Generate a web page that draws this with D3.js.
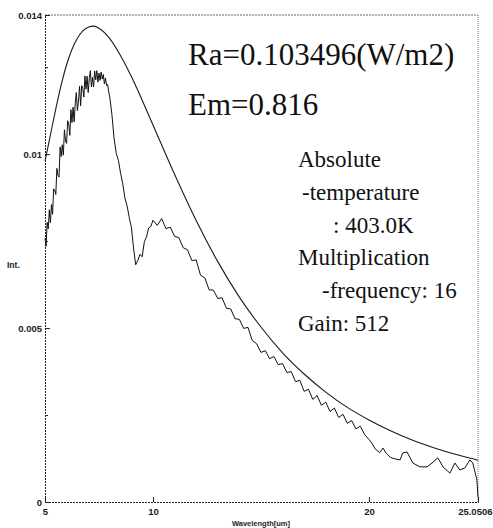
<!DOCTYPE html>
<html>
<head>
<meta charset="utf-8">
<script src="https://cdn.jsdelivr.net/npm/d3@7"></script>
<style>
  body { margin: 0; background: #fff; }
  svg { display: block; }
</style>
</head>
<body>
<svg id="chart"></svg>
<script>
// axis ticks
var xTicks = [5, 10, 20, 25.0506],
    xTickLabels = ["5", "10", "20", "25.0506"],
    yTicks = [0, 0.005, 0.01, 0.014],
    yTickLabels = ["0", "0.005", "0.01", "0.014"],
    yMinor = [0.0025, 0.0075, 0.0125];

// blackbody curve (Int. in units of 1e-3)
var planckWl = [5, 5.25, 5.5, 5.75, 6, 6.5, 7, 7.25, 7.5, 8, 8.5, 9, 9.5, 10, 11, 12, 13, 14, 15,
                16, 17, 18, 19, 20, 21, 22, 23, 24, 25, 25.0506];
var planckInt = [9.8, 10.55, 11.30, 11.99, 12.57, 13.33, 13.65, 13.68, 13.62, 13.32, 12.83, 12.23, 11.55, 10.84, 9.42, 8.09, 6.91, 5.89, 5.03,
                 4.29, 3.68, 3.16, 2.72, 2.36, 2.05, 1.78, 1.56, 1.37, 1.21, 1.20];

// measured spectrum, 5.00 - 7.95 um every 0.05 um (noisy part)
var measNoisy = [7.58, 7.35, 8.04, 7.85, 8.40, 8.03, 8.55, 8.27, 9.00, 8.97,
                 8.84, 9.59, 9.39, 9.34, 10.21, 9.93, 10.27, 9.97, 10.70, 10.38,
                 10.31, 10.96, 10.86, 10.54, 11.28, 10.91, 11.35, 10.93, 11.45, 11.77,
                 11.25, 11.53, 11.95, 11.39, 11.97, 11.89, 11.64, 12.25, 11.87, 12.24,
                 11.77, 12.18, 12.40, 11.93, 12.21, 11.93, 12.39, 12.14, 12.40, 12.07,
                 12.33, 12.12, 12.36, 12.16, 12.29, 12.02, 12.19, 11.97, 12.00, 11.79];
// 8.0 - 9.9 um every 0.1 um
var measDip = [11.64, 11.13, 10.45, 10.02, 9.82, 9.45, 9.15, 8.74, 8.52, 8.18,
               7.90, 7.30, 6.82, 6.95, 7.12, 7.05, 7.48, 7.62, 7.88, 7.92];
// 10.0 - 19.8 um every 0.2 um
var measTail = [8.10, 7.95, 8.15, 7.86, 7.90, 7.64, 7.60, 7.31, 7.25, 6.94,
                6.96, 6.52, 6.44, 6.10, 6.09, 5.85, 5.87, 5.57, 5.55, 5.27,
                5.25, 4.99, 5.02, 4.64, 4.55, 4.30, 4.35, 4.12, 4.18, 3.95,
                3.98, 3.72, 3.75, 3.46, 3.50, 3.18, 3.24, 2.95, 3.06, 2.78,
                2.87, 2.60, 2.70, 2.43, 2.52, 2.26, 2.34, 2.10, 2.18, 1.94];
// 20 um to the end
var measEnd = [[20.0, 1.80], [20.1, 1.72], [20.3, 1.52], [20.5, 1.42], [20.65, 1.55], [20.8, 1.40],
               [21.0, 1.28], [21.2, 1.24], [21.44, 1.21], [21.57, 1.41], [21.76, 1.44], [22.04, 1.12],
               [22.36, 1.01], [22.69, 1.01], [22.92, 1.12], [23.19, 1.27], [23.43, 1.01], [23.75, 0.83],
               [23.98, 1.12], [24.21, 0.92], [24.44, 0.98], [24.68, 1.21], [24.81, 1.12], [25.0, 0.63],
               [25.0506, 0.14]];

var notes = ["Absolute", "-temperature", ": 403.0K", "Multiplication", "-frequency: 16", "Gain: 512"];

var W = 493, H = 528;
var svg = d3.select("#chart").attr("width", W).attr("height", H);

var x = d3.scaleLinear().domain([5, 25.0506]).range([45, 478]);
var y = d3.scaleLinear().domain([0, 0.014]).range([502, 15]);

// build measured series
var meas = [];
measNoisy.forEach(function(v, i) { meas.push([5 + i * 0.05, v]); });
measDip.forEach(function(v, i) { meas.push([8 + i * 0.1, v]); });
measTail.forEach(function(v, i) { meas.push([10 + i * 0.2, v]); });
measEnd.forEach(function(p) { meas.push(p); });

var planck = planckWl.map(function(w, i) { return [w, planckInt[i]]; });

// frame: top and right
svg.append("line")
    .attr("x1", x(5)).attr("x2", x(25.0506)).attr("y1", y(0.014)).attr("y2", y(0.014))
    .attr("stroke", "#666").attr("stroke-dasharray", "2,1");
svg.append("line")
    .attr("x1", x(25.0506)).attr("x2", x(25.0506)).attr("y1", y(0.014)).attr("y2", y(0))
    .attr("stroke", "#777").attr("stroke-dasharray", "1,1");

// y axis
svg.append("g")
    .attr("transform", "translate(" + x(5) + ",0)")
    .call(d3.axisLeft(y).tickValues(yTicks).tickSize(-5).tickPadding(3)
      .tickFormat(function(d, i) { return yTickLabels[i]; }));
svg.append("g")
    .attr("transform", "translate(" + x(5) + ",0)")
    .call(d3.axisLeft(y).tickValues(yMinor).tickSize(-3).tickFormat(""))
    .select(".domain").remove();

// x axis
var xAxis = svg.append("g")
    .attr("transform", "translate(0," + y(0) + ")")
    .call(d3.axisBottom(x).tickValues(xTicks).tickSize(-5).tickPadding(6)
      .tickFormat(function(d, i) { return xTickLabels[i]; }));
// last label sits against the right edge
xAxis.selectAll(".tick text")
    .filter(function(d) { return d === 25.0506; })
    .attr("text-anchor", "end").attr("x", 492 - x(25.0506));

svg.selectAll(".domain").attr("stroke", "#222").attr("stroke-dasharray", "2,1");
svg.selectAll(".tick line").attr("stroke", "#222");
svg.selectAll(".tick text")
    .attr("font-family", "Liberation Sans").attr("font-weight", "bold")
    .attr("font-size", 9.5).attr("fill", "#222");

// axis titles
svg.append("text")
    .attr("x", 7).attr("y", 268)
    .attr("font-family", "Liberation Sans")
    .attr("font-weight", "bold").attr("font-size", 8.5).attr("fill", "#222")
    .text("Int.");
svg.append("text")
    .attr("x", 261).attr("y", 526)
    .attr("text-anchor", "middle")
    .attr("font-family", "Liberation Sans")
    .attr("font-weight", "bold").attr("font-size", 7.5).attr("fill", "#222")
    .text("Wavelength[um]");

var line = d3.line()
    .x(function(d) { return x(d[0]); })
    .y(function(d) { return y(d[1] / 1000); });

svg.append("path")
    .datum(planck)
    .attr("fill", "none")
    .attr("stroke", "#1a1a1a")
    .attr("stroke-width", 1.1)
    .attr("d", line.curve(d3.curveMonotoneX));

svg.append("path")
    .datum(meas)
    .attr("fill", "none")
    .attr("stroke", "#111")
    .attr("stroke-width", 1)
    .attr("d", line.curve(d3.curveLinear));

// annotations
svg.append("text")
    .attr("x", 188).attr("y", 65)
    .attr("font-family", "Liberation Serif").attr("font-size", 31).attr("fill", "#111")
    .text("Ra=0.103496(W/m2)");
svg.append("text")
    .attr("x", 188).attr("y", 115)
    .attr("font-family", "Liberation Serif").attr("font-size", 31).attr("fill", "#111")
    .text("Em=0.816");

var noteX = [298, 302, 333, 298, 322, 298];
svg.selectAll(".note")
    .data(notes)
    .enter().append("text")
    .attr("class", "note")
    .attr("x", function(d, i) { return noteX[i]; })
    .attr("y", function(d, i) { return 167 + i * 32.8; })
    .attr("font-family", "Liberation Serif").attr("font-size", 23).attr("fill", "#111")
    .text(function(d) { return d; });
</script>
</body>
</html>
